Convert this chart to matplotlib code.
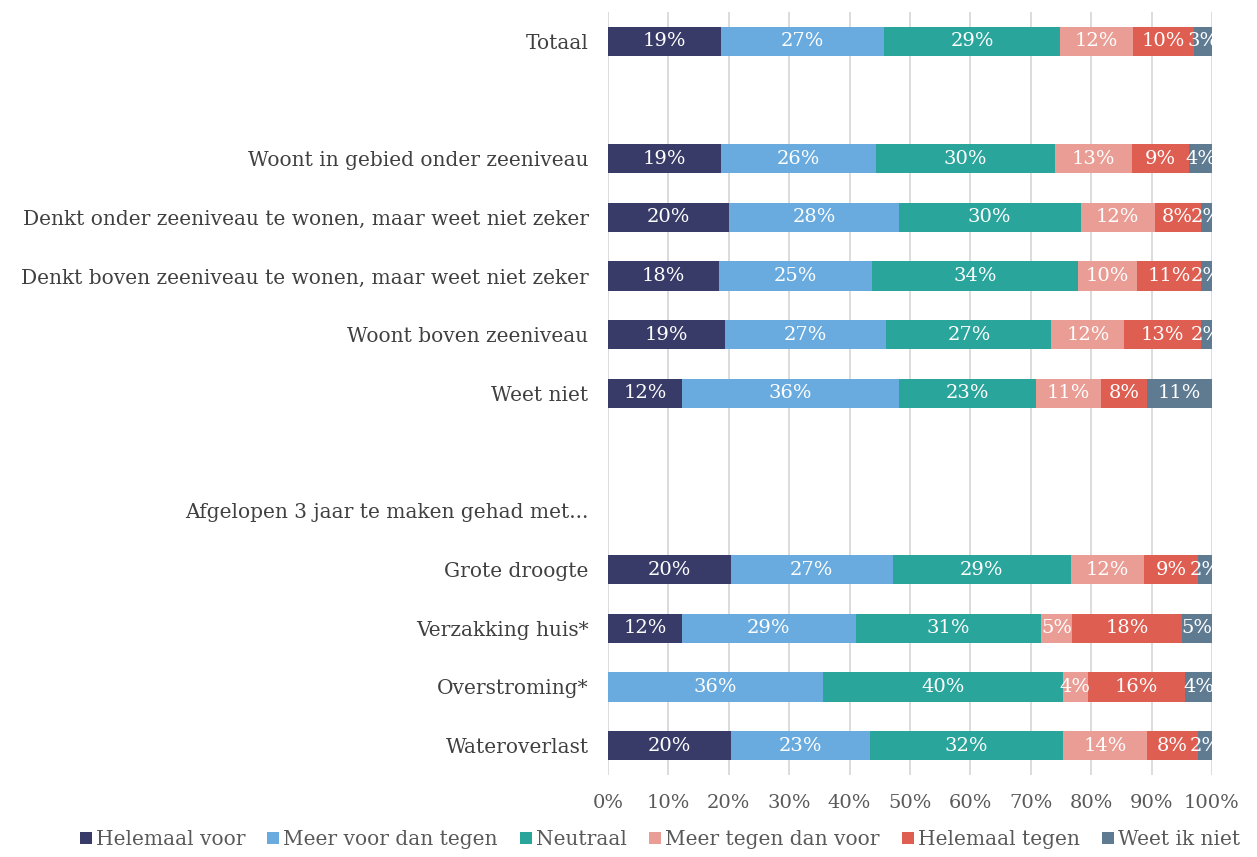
#!/usr/bin/env python3
"""Stacked 100% bar chart: houding per groep (zeeniveau / ervaring)."""

import matplotlib
matplotlib.use("Agg")

import matplotlib.pyplot as plt  # noqa: E402
import numpy as np  # noqa: E402

# categories top to bottom; empty strings are spacer rows
categories = [
    "Totaal",
    "",
    "Woont in gebied onder zeeniveau",
    "Denkt onder zeeniveau te wonen, maar weet niet zeker",
    "Denkt boven zeeniveau te wonen, maar weet niet zeker",
    "Woont boven zeeniveau",
    "Weet niet",
    "",
    "Afgelopen 3 jaar te maken gehad met...",
    "Grote droogte",
    "Verzakking huis*",
    "Overstroming*",
    "Wateroverlast",
]

series_names = [
    "Helemaal voor",
    "Meer voor dan tegen",
    "Neutraal",
    "Meer tegen dan voor",
    "Helemaal tegen",
    "Weet ik niet",
]

# percentages per category (nan = no bar)
helemaal_voor = [18.7, np.nan, 18.7, 20.1, 18.3, 19.4, 12.2, np.nan, np.nan, 20.3, 12.2, 0.0, 20.3]
meer_voor = [27.0, np.nan, 25.7, 28.0, 25.4, 26.7, 35.9, np.nan, np.nan, 26.9, 28.8, 35.6, 23.0]
neutraal = [29.2, np.nan, 29.6, 30.2, 34.1, 27.3, 22.7, np.nan, np.nan, 29.4, 30.7, 39.7, 32.1]
meer_tegen = [12.0, np.nan, 12.8, 12.2, 9.8, 12.1, 10.8, np.nan, np.nan, 12.2, 5.1, 4.1, 13.9]
helemaal_tegen = [10.1, np.nan, 9.4, 7.6, 10.6, 12.7, 7.7, np.nan, np.nan, 8.9, 18.3, 16.2, 8.3]
weet_niet = [3.0, np.nan, 3.8, 1.9, 1.8, 1.8, 10.7, np.nan, np.nan, 2.3, 4.9, 4.4, 2.4]

colors = ["#383B67", "#69ABDE", "#2AA59B", "#EA9D95", "#DF5E52", "#5F7B92"]

FONT = "DejaVu Serif"
TEXT_GRAY = "#404040"
TICK_GRAY = "#595959"

plt.rcParams["font.family"] = FONT

fig = plt.figure(figsize=(12.57, 8.57), dpi=100)
ax = fig.add_axes([608 / 1257, 1 - 775 / 857, (1212 - 608) / 1257, (775 - 12) / 857])

y = np.arange(len(categories))
left = np.zeros(len(categories))
all_series = [helemaal_voor, meer_voor, neutraal, meer_tegen, helemaal_tegen, weet_niet]

for name, vals, color in zip(series_names, all_series, colors):
    vals = np.nan_to_num(np.array(vals, dtype=float))
    bars = ax.barh(y, vals, left=left, height=0.5, color=color, label=name, zorder=3)
    labels = [f"{v:.0f}%" if v > 0 else "" for v in vals]
    ax.bar_label(bars, labels=labels, label_type="center", color="white",
                 fontsize=14, zorder=4)
    left += vals

ax.set_xlim(0, 100)
ax.set_ylim(len(categories) - 0.5, -0.5)
ax.set_yticks(y)
ax.set_yticklabels(categories, fontsize=14.5, color=TEXT_GRAY)
ax.set_xticks(np.arange(0, 101, 10))
ax.set_xticklabels([f"{t}%" for t in range(0, 101, 10)], fontsize=14, color=TICK_GRAY)
ax.tick_params(axis="both", length=0)
ax.tick_params(axis="y", pad=14)
ax.tick_params(axis="x", pad=14)
ax.grid(axis="x", color="#d9d9d9", linewidth=1.3, zorder=0)
for spine in ax.spines.values():
    spine.set_visible(False)

fig.legend(loc="lower center", bbox_to_anchor=(0.525, -0.012), ncol=6, frameon=False,
           fontsize=14.5, handlelength=0.6, handleheight=0.6, handletextpad=0.2,
           columnspacing=1.1, labelcolor=TICK_GRAY)

fig.savefig("out.png", dpi=100)
